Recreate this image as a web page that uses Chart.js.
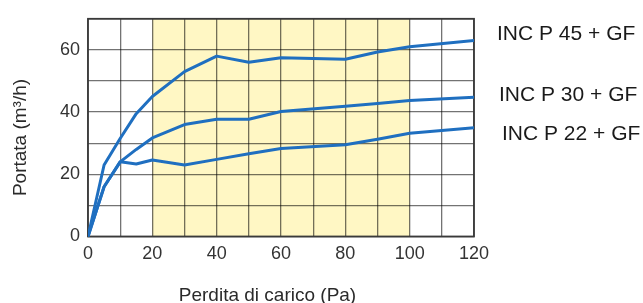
<!DOCTYPE html>
<html>
<head>
<meta charset="utf-8">
<script src="https://cdn.jsdelivr.net/npm/chart.js@4/dist/chart.umd.min.js"></script>
<style>
  html, body { margin: 0; padding: 0; background: #fff; }
  #wrap { width: 643px; height: 303px; }
</style>
</head>
<body>
<div id="wrap"><canvas id="c" width="643" height="303"></canvas></div>
<script>
const pressure = [0, 5, 10, 15, 20, 30, 40, 50, 60, 80, 90, 100, 120];
const flow45 = [0, 23, 31.5, 39.5, 45, 53, 58, 56, 57.5, 57, 59.3, 61, 63];
const flow30 = [0, 16, 24, 28, 31.7, 36, 37.7, 37.7, 40.2, 41.9, 42.8, 43.7, 44.8];
const flow22 = [0, 16, 24, 23.3, 24.6, 23, 24.8, 26.6, 28.3, 29.5, 31.3, 33.2, 35];
const seriesNames = ['INC P 45 + GF', 'INC P 30 + GF', 'INC P 22 + GF'];
const xTicks = [0, 20, 40, 60, 80, 100, 120];
const yTicks = [0, 20, 40, 60];
const band = [20, 100];
const xTitle = 'Perdita di carico (Pa)';
const yTitle = 'Portata (m³/h)';

const FONT = '"Liberation Sans", Arial, Helvetica, sans-serif';
const BLUE = '#1f6fc0';

function pts(ys) { return pressure.map((x, i) => ({ x: x, y: ys[i] })); }

const decor = {
  id: 'decor',
  beforeDraw(chart) {
    const { ctx, chartArea: a, scales: { x } } = chart;
    ctx.save();
    ctx.fillStyle = '#fff7c4';
    const x0 = x.getPixelForValue(band[0]), x1 = x.getPixelForValue(band[1]);
    ctx.fillRect(x0, a.top, x1 - x0, a.bottom - a.top);
    ctx.restore();
  },
  beforeDatasetsDraw(chart) {
    const { ctx, chartArea: a } = chart;
    ctx.save();
    ctx.strokeStyle = '#3a3a3a';
    ctx.lineWidth = 1.8;
    ctx.strokeRect(a.left, a.top, a.right - a.left, a.bottom - a.top);
    ctx.restore();
  },
  afterDraw(chart) {
    const { ctx } = chart;
    ctx.save();
    ctx.fillStyle = '#1a1a1a';
    ctx.font = '21px ' + FONT;
    ctx.textBaseline = 'middle';
    ctx.textAlign = 'left';
    const lx = [497, 499, 502], ly = [34, 95, 134];
    seriesNames.forEach((n, i) => ctx.fillText(n, lx[i], ly[i]));
    ctx.fillStyle = '#2a2a2a';
    ctx.font = '19px ' + FONT;
    ctx.textAlign = 'center';
    ctx.textBaseline = 'alphabetic';
    ctx.fillText(xTitle, 267.5, 300.5);
    ctx.translate(26, 137.5);
    ctx.rotate(-Math.PI / 2);
    ctx.fillText(yTitle, 0, 0);
    ctx.restore();
  }
};

new Chart(document.getElementById('c'), {
  type: 'line',
  data: {
    datasets: [
      { label: seriesNames[0], data: pts(flow45) },
      { label: seriesNames[1], data: pts(flow30) },
      { label: seriesNames[2], data: pts(flow22) }
    ].map(d => Object.assign(d, {
      borderColor: BLUE, borderWidth: 3, pointRadius: 0, tension: 0,
      fill: false, borderJoinStyle: 'round', borderCapStyle: 'round'
    }))
  },
  options: {
    responsive: false,
    animation: false,
    layout: { padding: { top: 13.5, right: 169, left: 0, bottom: 0 } },
    plugins: { legend: { display: false }, tooltip: { enabled: false } },
    scales: {
      x: {
        type: 'linear', min: 0, max: 120,
        afterFit(s) { s.height = 66.5; },
        border: { display: false },
        grid: { color: 'rgba(0,0,0,0.55)', lineWidth: 1.3, drawTicks: false },
        ticks: {
          stepSize: 10, padding: 7, color: '#333',
          font: { family: FONT, size: 18 },
          maxRotation: 0, autoSkip: false,
          callback: v => xTicks.includes(v) ? String(v) : ''
        }
      },
      y: {
        type: 'linear', min: 0, max: 70,
        afterFit(s) { s.width = 88; },
        border: { display: false },
        grid: { color: 'rgba(0,0,0,0.55)', lineWidth: 1.3, drawTicks: false },
        ticks: {
          stepSize: 10, padding: 8, color: '#333',
          font: { family: FONT, size: 18 },
          autoSkip: false,
          callback: v => yTicks.includes(v) ? String(v) : ''
        }
      }
    }
  },
  plugins: [decor]
});
</script>
</body>
</html>
